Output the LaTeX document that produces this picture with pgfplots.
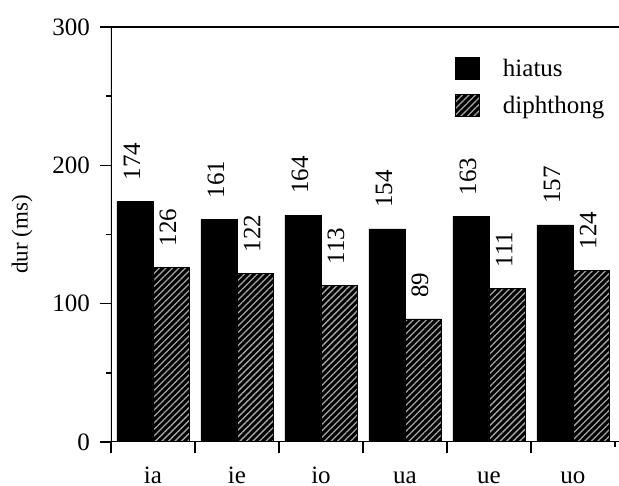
\documentclass[border=0pt]{standalone}
\usepackage{fontspec}
\setmainfont{Liberation Serif}
\usepackage{pgfplots}
\pgfplotsset{compat=1.18}
\usetikzlibrary{patterns.meta}

\newcommand{\bigf}{\fontsize{25}{30}\selectfont}

\pgfplotsset{
  sq legend/.style={legend image code/.code={%
    \draw[##1,draw=black,line width=0.8pt] (0pt,-11pt) rectangle (24pt,11pt);}},
  hatched/.style={fill=black, draw=black,
    postaction={pattern={Lines[angle=45,distance=4.6pt,line width=1.3pt]},
                pattern color=white!65!black}},
}

\begin{document}
\begin{tikzpicture}
\begin{axis}[
  at={(0pt,0pt)}, anchor=south west,
  scale only axis, width=508.2pt, height=415pt,
  xmin=-0.5, xmax=5.55, ymin=0, ymax=300,
  ybar=0pt, bar width=36pt,
  axis line style={draw=none},
  tick pos=left, tick align=outside,
  tick style={black, line width=1.6pt},
  major tick length=11pt, minor tick length=5pt,
  xtick={-0.5,0.5,...,5.5},
  x tick label as interval,
  xticklabels={ia,ie,io,ua,ue,uo},
  x tick style={shorten <=6pt},
  ytick={0,100,200,300}, minor y tick num=1,
  /pgf/number format/assume math mode=true,
  tick label style={font=\bigf, inner sep=0pt},
  xticklabel style={anchor=base, yshift=-31pt},
  yticklabel style={anchor=east, xshift=-10pt},
  every axis y label/.style={at={(axis description cs:0,0.5)}, xshift=-89pt, rotate=90, anchor=center},
  ylabel={dur (ms)},
  label style={font=\fontsize{23}{28}\selectfont},
  nodes near coords,
  every node near coord/.append style={font=\bigf, black, inner sep=0pt, yshift=21pt, xshift=-3pt, rotate=90, anchor=west},
  legend style={draw=none, fill=none, inner sep=0pt, anchor=north west,
    at={(rel axis cs:0.6769,0.9277)}, row sep=14pt,
    /tikz/every odd column/.append style={column sep=23pt},
    nodes={inner sep=0pt, font=\bigf}},
  legend cell align=left,
]
\addplot[fill=black, draw=black, sq legend] coordinates {
  (0,174) (1,161) (2,164) (3,154) (4,163) (5,157)
};
\addlegendentry{hiatus}
\addplot[hatched, sq legend] coordinates {
  (0,126) (1,122) (2,113) (3,89) (4,111) (5,124)
};
\addlegendentry{diphthong}
\draw[line width=1.6pt] (rel axis cs:0,0) -- (rel axis cs:1,0);
\draw[line width=1.6pt] (rel axis cs:0,1) -- (rel axis cs:1,1);
\draw[line width=1.6pt] (rel axis cs:0,0) -- (rel axis cs:0,1);
\end{axis}
\pgfresetboundingbox
\useasboundingbox (-111pt,-44pt) rectangle (508pt,442pt);
\end{tikzpicture}
\end{document}
